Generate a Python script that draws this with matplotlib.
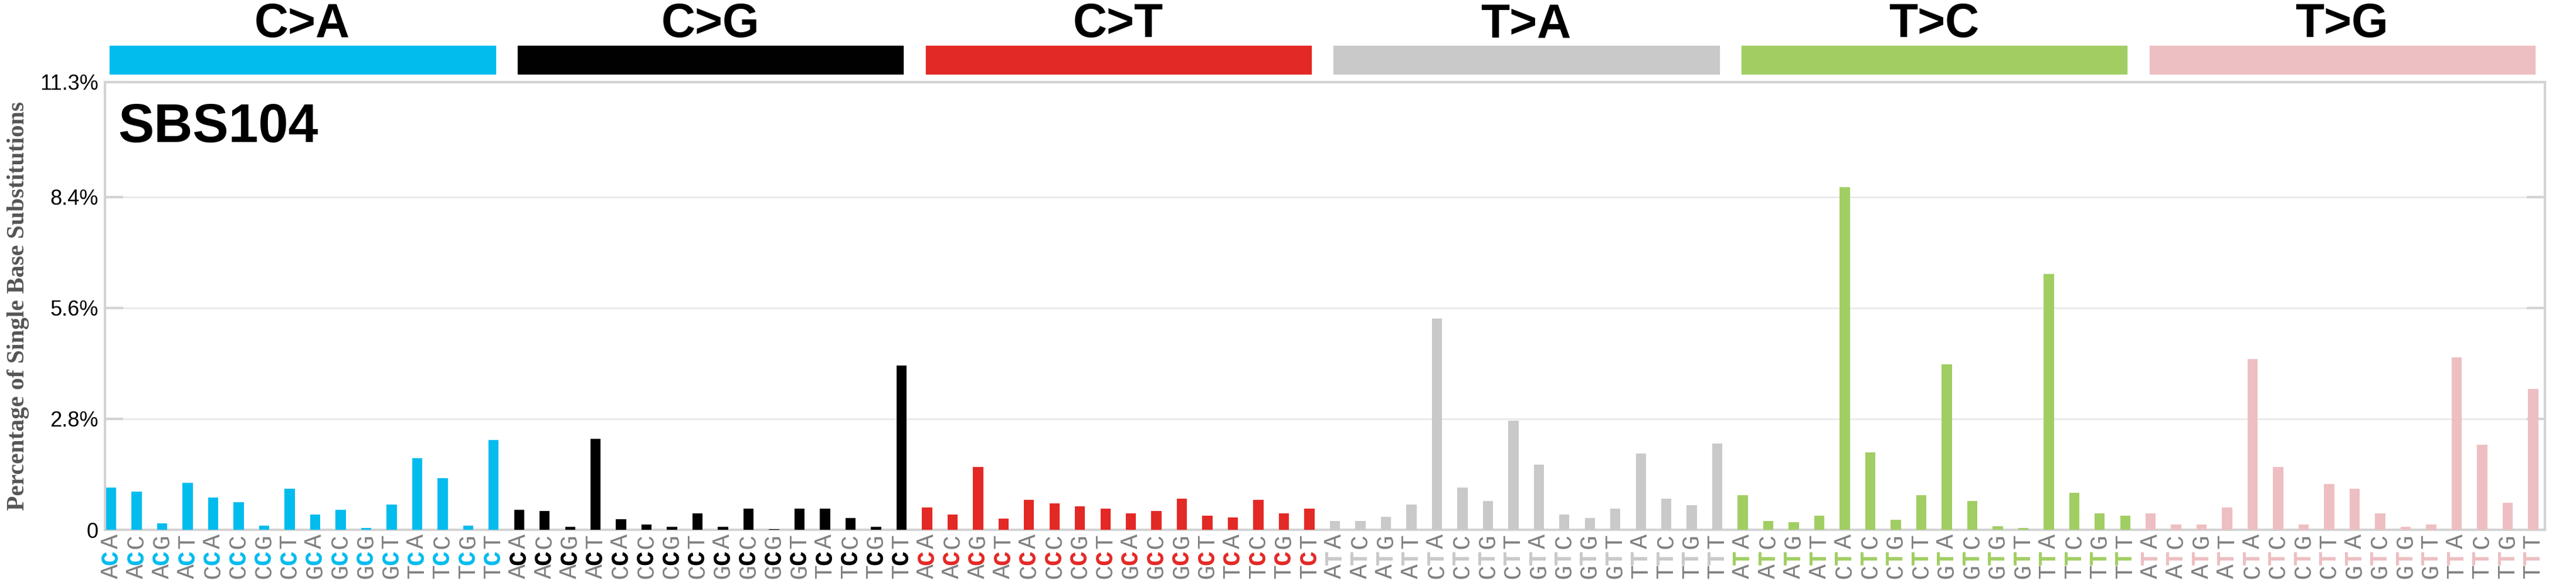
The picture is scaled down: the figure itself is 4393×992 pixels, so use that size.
import matplotlib.pyplot as plt
import matplotlib.patches as mpatches
import numpy as np

# mutation types, colours and per-context percentages
mut_types = ['C>A', 'C>G', 'C>T', 'T>A', 'T>C', 'T>G']
mut_colors = ['#03BCEE', '#010101', '#E32926', '#CAC9C9', '#A1CE63', '#EDBFC2']
contexts5 = ['A', 'A', 'A', 'A', 'C', 'C', 'C', 'C',
             'G', 'G', 'G', 'G', 'T', 'T', 'T', 'T']
contexts3 = ['A', 'C', 'G', 'T'] * 4

ca = [1.06, 0.96, 0.16, 1.18, 0.81, 0.69, 0.11, 1.03,
      0.38, 0.50, 0.05, 0.63, 1.81, 1.30, 0.11, 2.26]
cg = [0.50, 0.48, 0.07, 2.29, 0.26, 0.13, 0.08, 0.41,
      0.08, 0.53, 0.02, 0.53, 0.54, 0.29, 0.07, 4.15]
ct = [0.56, 0.38, 1.58, 0.28, 0.76, 0.66, 0.60, 0.54,
      0.42, 0.48, 0.79, 0.36, 0.31, 0.76, 0.41, 0.53]
ta = [0.22, 0.22, 0.32, 0.63, 5.33, 1.06, 0.73, 2.75,
      1.65, 0.38, 0.30, 0.54, 1.92, 0.79, 0.62, 2.18]
tc = [0.87, 0.22, 0.20, 0.36, 8.65, 1.96, 0.25, 0.87,
      4.17, 0.73, 0.09, 0.05, 6.45, 0.93, 0.42, 0.36]
tg = [0.42, 0.14, 0.14, 0.56, 4.31, 1.58, 0.13, 1.15,
      1.04, 0.42, 0.07, 0.14, 4.36, 2.15, 0.68, 3.56]

y_ticks = [0, 2.8, 5.6, 8.4, 11.3]
y_ticklabels = ['0', '2.8%', '5.6%', '8.4%', '11.3%']
sig_name = 'SBS104'


def main():
    values = [ca, cg, ct, ta, tc, tg]
    fig = plt.figure(figsize=(43.93, 9.92), dpi=100)
    ax = fig.add_axes([0.0407, 0.0897, 0.9472, 0.7692])

    xtrans = ax.get_xaxis_transform()
    for g, (mt, col, vals) in enumerate(zip(mut_types, mut_colors, values)):
        x = np.arange(16) + g * 16
        ax.bar(x, vals, width=0.4, color=col, zorder=3)
        # header block and label
        ax.add_patch(mpatches.Rectangle((g * 16 - 0.05, 1.018), 15.12, 0.063,
                                        transform=xtrans, color=col,
                                        clip_on=False))
        ax.text(g * 16 + 7.5, 1.128, mt, transform=xtrans, ha='center',
                va='center', fontsize=58, fontweight='bold',
                family='Liberation Sans')
        # stacked trinucleotide labels
        for i in range(16):
            ax.text(x[i], -0.025, contexts3[i], transform=xtrans, rotation=90,
                    ha='center', va='center', fontsize=30, color='#808080',
                    family='Liberation Mono')
            ax.text(x[i], -0.0616, mt[0], transform=xtrans, rotation=90,
                    ha='center', va='center', fontsize=30, color=col,
                    fontweight='bold', family='Liberation Mono')
            ax.text(x[i], -0.093, contexts5[i], transform=xtrans, rotation=90,
                    ha='center', va='center', fontsize=30, color='#808080',
                    family='Liberation Mono')

    ax.set_xlim(-0.25, 95.46)
    ax.set_ylim(0, 11.3)
    ax.set_xticks([])
    ax.set_yticks(y_ticks)
    ax.set_yticklabels(y_ticklabels, fontsize=26, family='Liberation Sans')
    ax.tick_params(axis='y', direction='in', length=22, width=3,
                   color='#D3D3D3', right=True, pad=8)
    ax.grid(axis='y', color='#E9E9E9', linewidth=2, zorder=0)
    for s in ax.spines.values():
        s.set_color('#D3D3D3')
        s.set_linewidth(3)

    ax.set_ylabel('Percentage of Single Base Substitutions', fontsize=30,
                  family='Liberation Serif', fontweight='bold',
                  color='#555555', labelpad=14)
    ax.yaxis.set_label_coords(-0.031, 0.5)
    ax.text(0.0055, 0.898, sig_name, transform=ax.transAxes, ha='left',
            va='center', fontsize=66, fontweight='bold',
            family='Liberation Sans', zorder=5)

    fig.savefig('out.png', dpi=100)


if __name__ == "__main__":
    main()
